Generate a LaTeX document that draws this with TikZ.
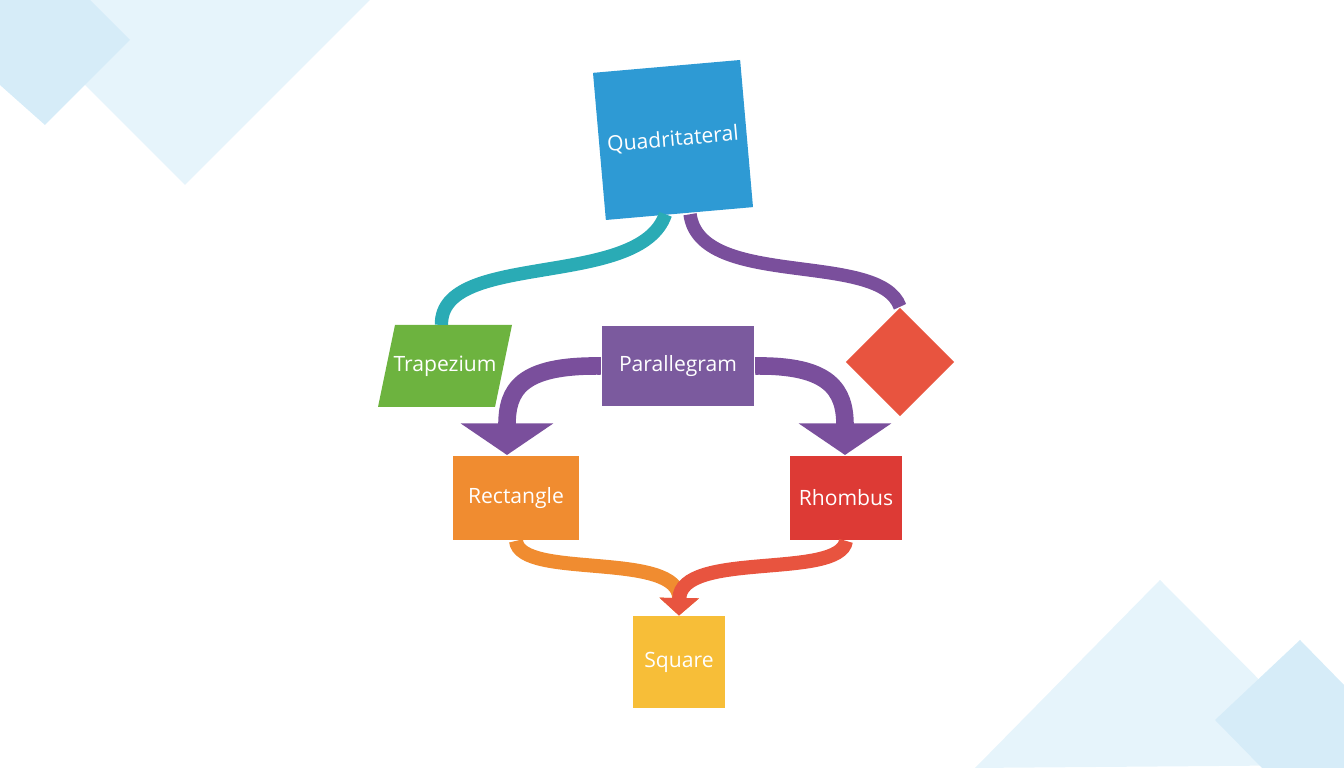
\documentclass[tikz,border=0pt]{standalone}
\usepackage{fontspec}
\setmainfont{Open Sans}
\usetikzlibrary{shapes.geometric,arrows.meta}
\definecolor{qblue}{HTML}{2E9AD4}
\definecolor{tgreen}{HTML}{6DB33F}
\definecolor{ppurple}{HTML}{7B5A9E}
\definecolor{dred}{HTML}{E8543F}
\definecolor{rorange}{HTML}{F08C30}
\definecolor{hred}{HTML}{DD3A35}
\definecolor{syellow}{HTML}{F7BE38}
\definecolor{bandteal}{HTML}{2AABB5}
\definecolor{bandpurple}{HTML}{7A4F9C}
\definecolor{bgblue}{HTML}{D6ECF8}
\begin{document}
\begin{tikzpicture}[%
    x=0.01cm, y=-0.01cm,        % pixel grid of the reference
    font=\fontsize{6}{7}\selectfont,
    ]
% -------------------------------------------------
% Box and connector styles
\tikzset{
  base/.style={text=white, align=center, inner sep=0pt},
  box/.style={base, rectangle, fill=#1},
  band/.style={line width=3.8pt, draw=#1},
  bigarrow/.style={line width=5pt, draw=#1,
    -{Triangle[width=26pt, length=9pt]}},
  smallarrow/.style={line width=4pt, draw=#1,
    -{Triangle[width=11pt, length=5pt]}},
}
% -------------------------------------------------
% Frame and background decoration
\useasboundingbox (0,0) rectangle (1344,768);
\fill[bgblue, opacity=.6] (90,0) -- (370,0) -- (185,185) -- (50,50) -- cycle;
\fill[bgblue] (0,0) -- (90,0) -- (130,40) -- (45,125) -- (0,85) -- cycle;
\fill[bgblue, opacity=.6] (975,768) -- (1160,580) -- (1344,765) -- cycle;
\fill[bgblue] (1215,720) -- (1300,640) -- (1344,685) -- (1344,768) -- (1262,768) -- cycle;
% -------------------------------------------------
% Nodes
\node [box=qblue, minimum size=42pt, rotate=5] (quad) at (673,140) {Quadritateral};
\fill [tgreen] (395,325) -- (512,325) -- (495,407) -- (378,407) -- cycle;
\node [base, minimum width=32pt, minimum height=23pt] (trap) at (445,366) {Trapezium};
\node [box=ppurple, minimum width=43.5pt, minimum height=23pt] (para) at (678,366) {Parallegram};
\node [base, diamond, fill=dred, minimum size=31pt] (kite) at (900,362) {};
\node [box=rorange, minimum width=36pt, minimum height=24pt] (rect) at (516,498) {Rectangle};
\node [box=hred, minimum width=32pt, minimum height=24pt] (rhom) at (846,498) {Rhombus};
\node [box=syellow, minimum width=26pt, minimum height=26pt] (sq) at (679,662) {Square};
% -------------------------------------------------
% Connectors
\draw [band=bandteal] ([xshift=-4pt]quad.south) .. controls (640,290) and (440,250) .. ([xshift=-1pt]trap.north);
\draw [band=bandpurple] ([xshift=3pt]quad.south) .. controls (700,290) and (880,250) .. (kite.north);
\draw [bigarrow=bandpurple] (para.west) .. controls (520,365) and (507,390) .. (507,455);
\draw [bigarrow=bandpurple] (para.east) .. controls (830,365) and (845,390) .. (845,455);
\draw [smallarrow=rorange] (rect.south) .. controls (520,580) and (680,550) .. (sq.north);
\draw [smallarrow=dred] (rhom.south) .. controls (840,580) and (680,550) .. (sq.north);
% -------------------------------------------------
\end{tikzpicture}
\end{document}
